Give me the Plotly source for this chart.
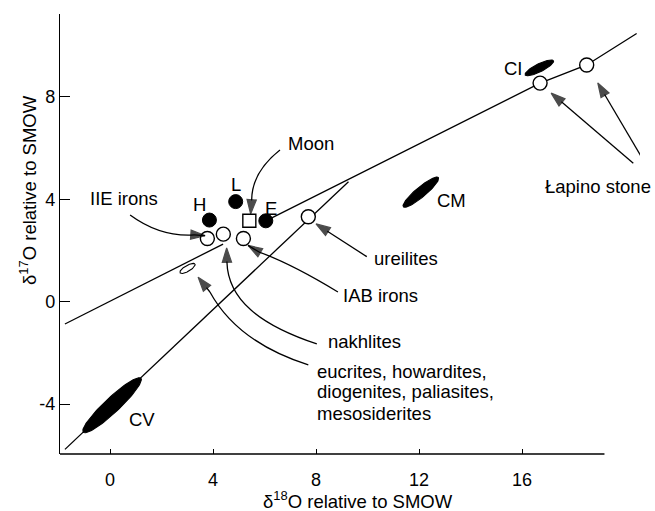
import numpy as np
import plotly.graph_objects as go

# ---------------- layout geometry ----------------
W, H = 655, 511
M_L, M_R, M_T, M_B = 60, 15, 14, 57
X_RANGE = [-1.942, 20.58]
Y_RANGE = [-5.95, 11.24]
X_AXIS_END = 19.2

X_TICKS = [0, 4, 8, 12, 16]
Y_TICKS = [-4, 0, 4, 8]

# ---------------- data ----------------
# terrestrial fractionation line (two pieces) and CCAM line
tfl_lower_x = [-1.75, 4.39]
tfl_lower_y = [-0.87, 2.25]
tfl_upper_x = [6.05, 16.70, 18.51, 20.45]
tfl_upper_y = [3.16, 8.54, 9.25, 10.48]
ccam_x = [-1.75, 9.26]
ccam_y = [-5.77, 4.69]

# open circles
open_names = ["IIE irons", "nakhlites", "IAB irons", "ureilites", "Łapino stone", "Łapino stone"]
open_x = [3.78, 4.40, 5.18, 7.70, 16.70, 18.51]
open_y = [2.47, 2.64, 2.47, 3.32, 8.54, 9.25]

# ordinary / enstatite chondrites
chond_names = ["H", "L", "E"]
chond_x = [3.86, 4.88, 6.05]
chond_y = [3.19, 3.91, 3.16]

# Moon
moon_x = [5.41]
moon_y = [3.16]

# fields (ellipses): end points of major axis and minor-axis width (data units)
CV_ends = [(-1.04, -5.10), (1.20, -2.99)]
CV_width = 0.58
CM_ends = [(11.39, 3.71), (12.75, 4.85)]
CM_width = 0.39
CI_ends = [(16.12, 8.86), (17.22, 9.41)]
CI_width = 0.31
HED_ends = [(2.72, 1.13), (3.30, 1.47)]
HED_width = 0.23

# text labels: (text, x, y, xanchor)
labels = [
    ("CV", 1.24, -4.62, "center"),
    ("CM", 13.27, 3.95, "center"),
    ("CI", 15.68, 9.10, "center"),
    ("H", 3.46, 3.80, "center"),
    ("L", 4.90, 4.56, "center"),
    ("E", 6.27, 3.63, "center"),
    ("Moon", 7.79, 6.18, "center"),
    ("IIE irons", 0.54, 4.04, "center"),
    ("ureilites", 11.48, 1.67, "center"),
    ("IAB irons", 10.49, 0.26, "center"),
    ("nakhlites", 9.90, -1.54, "center"),
    ("eucrites, howardites,", 7.96, -2.73, "left"),
    ("diogenites, paliasites,", 7.96, -3.52, "left"),
    ("mesosiderites", 7.96, -4.36, "left"),
    ("Łapino stone", 18.96, 4.49, "center"),
]

# curved leader lines (data coords): quadratic (3 pts) or cubic (4 pts)
curves = [
    [(6.60, 5.93), (5.51, 5.07), (5.50, 3.97)],                 # Moon
    [(0.78, 3.39), (1.94, 2.53), (3.26, 2.61)],                 # IIE irons
    [(8.03, -1.65), (5.83, -0.91), (4.58, 0.07), (4.54, 1.55)], # nakhlites
    [(7.70, -2.47), (5.90, -1.89), (4.58, -0.91), (3.88, 0.38)],# eucrites
    [(8.85, 0.38), (7.07, 1.47), (5.79, 1.94)],                 # IAB irons
]
# arrows: (tail_x, tail_y, tip_x, tip_y)
arrows = [
    (5.50, 3.97, 5.46, 3.43),
    (3.26, 2.61, 3.69, 2.58),
    (4.54, 1.55, 4.53, 2.10),
    (3.88, 0.38, 3.42, 0.96),
    (5.79, 1.94, 5.36, 2.20),
    (9.97, 1.76, 8.00, 3.04),
    (20.32, 5.41, 17.13, 8.15),
    (20.71, 5.53, 18.94, 8.55),
]

# ---------------- helpers ----------------
plot_w = W - M_L - M_R
plot_h = H - M_T - M_B
sx = plot_w / (X_RANGE[1] - X_RANGE[0])
sy = plot_h / (Y_RANGE[1] - Y_RANGE[0])


def ellipse_xy(ends, minor):
    (x1, y1), (x2, y2) = ends
    u1, v1, u2, v2 = x1 * sx, y1 * sy, x2 * sx, y2 * sy
    cu, cv = (u1 + u2) / 2, (v1 + v2) / 2
    a = np.hypot(u2 - u1, v2 - v1) / 2
    th = np.arctan2(v2 - v1, u2 - u1)
    b = minor * (sx + sy) / 4
    t = np.linspace(0, 2 * np.pi, 97)
    u = cu + a * np.cos(t) * np.cos(th) - b * np.sin(t) * np.sin(th)
    v = cv + a * np.cos(t) * np.sin(th) + b * np.sin(t) * np.cos(th)
    return u / sx, v / sy


FONT = "Liberation Sans, Arial, sans-serif"
FS = 18.5
LW = 1.3

fig = go.Figure()

for xs, ys in [(tfl_lower_x, tfl_lower_y), (tfl_upper_x, tfl_upper_y), (ccam_x, ccam_y)]:
    fig.add_trace(go.Scatter(x=xs, y=ys, mode="lines",
                             line=dict(color="black", width=LW),
                             hoverinfo="skip", showlegend=False))

for ends, wd, fill in [(CV_ends, CV_width, "black"), (CM_ends, CM_width, "black"),
                       (CI_ends, CI_width, "black"), (HED_ends, HED_width, "white")]:
    ex, ey = ellipse_xy(ends, wd)
    fig.add_trace(go.Scatter(x=ex, y=ey, mode="lines", fill="toself",
                             fillcolor=fill, line=dict(color="black", width=1.1),
                             hoverinfo="skip", showlegend=False))

fig.add_trace(go.Scatter(x=open_x, y=open_y, mode="markers", text=open_names,
                         marker=dict(symbol="circle", size=14, color="white",
                                     line=dict(color="black", width=1.4)),
                         showlegend=False))
fig.add_trace(go.Scatter(x=chond_x, y=chond_y, mode="markers", text=chond_names,
                         marker=dict(symbol="circle", size=14, color="black",
                                     line=dict(color="black", width=1)),
                         showlegend=False))
fig.add_trace(go.Scatter(x=moon_x, y=moon_y, mode="markers", text=["Moon"],
                         marker=dict(symbol="square", size=13, color="white",
                                     line=dict(color="black", width=1.4)),
                         showlegend=False))

# arrows: shaft + arrow-shaped head oriented along the shaft
for tx, ty, hx, hy in arrows:
    fig.add_trace(go.Scatter(x=[tx, hx], y=[ty, hy], mode="lines+markers",
                             line=dict(color="black", width=LW),
                             marker=dict(symbol="arrow", size=[0, 15], angleref="previous",
                                         color="black", line=dict(color="black", width=1.2)),
                             hoverinfo="skip", showlegend=False, cliponaxis=False))

shapes = []
for c in curves:
    if len(c) == 3:
        p = f"M {c[0][0]},{c[0][1]} Q {c[1][0]},{c[1][1]} {c[2][0]},{c[2][1]}"
    else:
        p = (f"M {c[0][0]},{c[0][1]} C {c[1][0]},{c[1][1]} "
             f"{c[2][0]},{c[2][1]} {c[3][0]},{c[3][1]}")
    shapes.append(dict(type="path", path=p, xref="x", yref="y", layer="below",
                       line=dict(color="black", width=LW)))
# x axis line (stops short of the right edge)
shapes.append(dict(type="line", xref="paper", yref="paper",
                   x0=0, x1=(X_AXIS_END - X_RANGE[0]) / (X_RANGE[1] - X_RANGE[0]),
                   y0=0, y1=0, line=dict(color="black", width=LW)))

annotations = []
for txt, x, y, xa in labels:
    annotations.append(dict(x=x, y=y, xref="x", yref="y", text=txt, showarrow=False,
                            xanchor=xa, yanchor="middle",
                            font=dict(family=FONT, size=FS, color="black")))

annotations.append(dict(x=(28 - M_L) / plot_w, y=(H - M_B - 190) / plot_h,
                        xref="paper", yref="paper", showarrow=False, textangle=-90,
                        xanchor="center", yanchor="middle",
                        text="δ<sup>17</sup>O relative to SMOW",
                        font=dict(family=FONT, size=FS, color="black")))
annotations.append(dict(x=(358 - M_L) / plot_w, y=-(500 - (H - M_B)) / plot_h,
                        xref="paper", yref="paper", showarrow=False,
                        xanchor="center", yanchor="middle",
                        text="δ<sup>18</sup>O relative to SMOW",
                        font=dict(family=FONT, size=FS, color="black")))

fig.update_layout(
    width=W, height=H,
    margin=dict(l=M_L, r=M_R, t=M_T, b=M_B, pad=0),
    paper_bgcolor="white", plot_bgcolor="white",
    showlegend=False,
    shapes=shapes, annotations=annotations,
    font=dict(family=FONT, size=18, color="black"),
    xaxis=dict(range=X_RANGE, showline=False, showgrid=False, zeroline=False,
               ticks="inside", ticklen=5, tickwidth=LW, tickcolor="black",
               tickvals=X_TICKS, ticktext=[str(v) for v in X_TICKS],
               tickfont=dict(family=FONT, size=18, color="black"),
               ticklabelstandoff=13),
    yaxis=dict(range=Y_RANGE, showline=True, linecolor="black", linewidth=LW,
               showgrid=False, zeroline=False,
               ticks="inside", ticklen=10, tickwidth=LW, tickcolor="black",
               tickvals=Y_TICKS, ticktext=[str(v) for v in Y_TICKS],
               tickfont=dict(family=FONT, size=18, color="black"),
               ticklabelstandoff=0),
)

fig.write_html("out.html", config={"displayModeBar": False},
               post_script="document.body.style.margin='0px';document.body.style.padding='0px';")
